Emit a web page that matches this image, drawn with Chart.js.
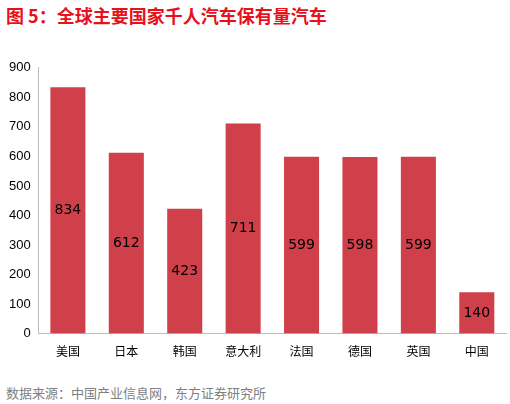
<!DOCTYPE html>
<html><head><meta charset="utf-8">
<script src="https://cdn.jsdelivr.net/npm/chart.js@4"></script>
<style>
body{margin:0;width:510px;height:404px;background:#fff;font-family:"Noto Sans CJK SC",sans-serif;position:relative;overflow:hidden}
#title{position:absolute;left:6px;top:2px;color:#e8101a;font-weight:bold;font-size:18px}
#src{position:absolute;left:6px;top:383px;color:#808080;font-size:13px}
#wrap{position:absolute;left:0;top:57px;width:510px;height:305px}
</style></head><body>
<div id="title">图 5：全球主要国家千人汽车保有量汽车</div>
<div id="wrap"><canvas id="c"></canvas></div>
<div id="src">数据来源：中国产业信息网，东方证券研究所</div>
<script>
const countries = ["美国","日本","韩国","意大利","法国","德国","英国","中国"];
const carsPer1000 = [834,612,423,711,599,598,599,140];
const yTicks = [0,100,200,300,400,500,600,700,800,900];

const labelPlugin = {
  id: "midLabels",
  afterDatasetsDraw(chart) {
    const ctx = chart.ctx;
    const meta = chart.getDatasetMeta(0);
    ctx.save();
    ctx.font = "14px 'DejaVu Sans'";
    ctx.fillStyle = "#000";
    ctx.textAlign = "center";
    ctx.textBaseline = "middle";
    meta.data.forEach((bar, i) => {
      const y = (bar.y + bar.base) / 2;
      ctx.fillText(carsPer1000[i], bar.x, y);
    });
    ctx.restore();
  }
};

new Chart(document.getElementById("c"), {
  type: "bar",
  data: { labels: countries, datasets: [{ data: carsPer1000, backgroundColor: "#d0404a", categoryPercentage: 0.75, barPercentage: 0.8 }] },
  options: {
    responsive: true, maintainAspectRatio: false, animation: false,
    layout: { padding: { left: 6, right: 4, top: 4 } },
    plugins: { legend: { display: false }, tooltip: { enabled: false } },
    scales: {
      x: { grid: { display: false, drawTicks: true }, border: { color: "#bbb" },
           ticks: { color: "#000", font: { size: 12, family: "Noto Sans CJK SC" } } },
      y: { min: 0, max: 900, afterBuildTicks: a => { a.ticks = yTicks.map(v => ({ value: v })); },
           grid: { display: false, drawTicks: true, tickLength: 5, tickColor: "#bbb" }, border: { color: "#bbb" },
           ticks: { color: "#000", font: { size: 13, family: "Liberation Sans" } } }
    }
  },
  plugins: [labelPlugin]
});
</script>
</body></html>
